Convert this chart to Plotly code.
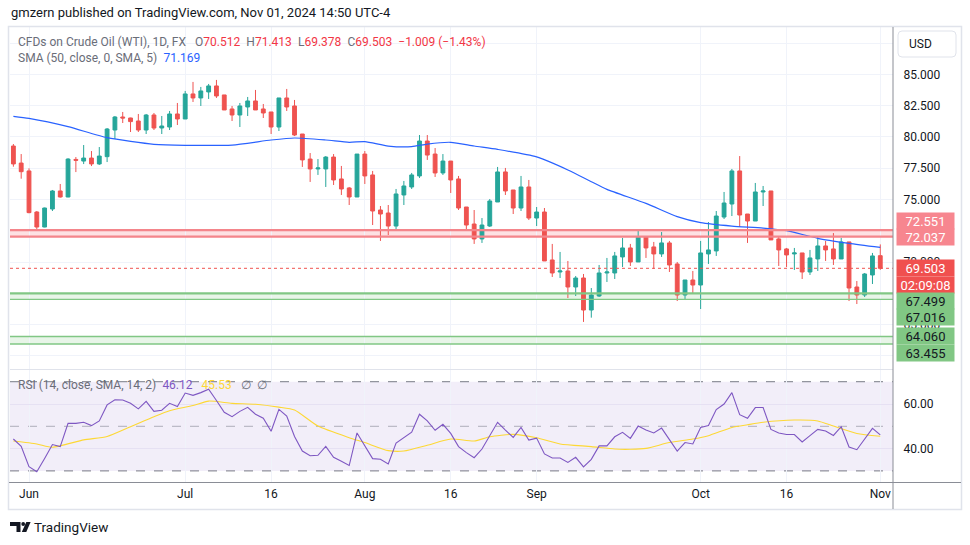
import pandas as pd
import plotly.graph_objects as go

# ---------------- data ----------------
dates = [d.strftime("%Y-%m-%d") for d in pd.bdate_range("2024-05-30", "2024-11-01")]

opens = [79.27, 77.91, 77.28, 74.00, 72.80, 74.24, 75.68, 75.20, 78.20, 78.07,
         78.31, 77.84, 78.42, 80.55, 81.59, 81.51, 81.27, 80.55, 81.75, 80.71,
         80.79, 81.83, 81.43, 83.43, 83.11, 83.59, 84.07, 83.35, 82.23, 81.75,
         82.39, 82.87, 82.23, 81.99, 80.79, 83.11, 82.47, 80.23, 78.23, 77.44,
         77.44, 78.39, 76.64, 75.92, 75.20, 78.63, 76.96, 74.16, 73.92, 72.88,
         75.36, 76.00, 76.88, 79.67, 78.63, 77.12, 78.07, 76.64, 74.40, 73.04,
         71.85, 72.88, 74.80, 77.20, 75.76, 74.32, 76.00, 73.52, 74.00, 70.17,
         69.21, 69.29, 68.01, 68.73, 66.17, 67.29, 69.13, 69.13, 70.41, 71.13,
         70.01, 72.00, 71.21, 70.65, 71.53, 69.85, 67.37, 68.57, 68.17, 70.65,
         70.89, 73.60, 74.64, 77.28, 73.84, 73.28, 75.60, 75.68, 71.85, 71.05,
         70.65, 70.73, 69.21, 70.25, 71.29, 71.05, 70.25, 71.61, 68.01, 67.37,
         68.97, 70.512]
highs = [79.43, 78.63, 77.49, 74.08, 74.35, 75.76, 76.24, 78.30, 78.39, 79.35,
         78.87, 79.19, 80.71, 81.67, 81.99, 81.53, 81.83, 81.83, 81.91, 81.67,
         82.07, 82.71, 83.67, 84.39, 83.99, 84.23, 84.55, 83.35, 82.47, 82.71,
         83.19, 83.75, 82.63, 81.99, 83.11, 83.83, 82.95, 80.23, 78.71, 78.23,
         78.47, 78.63, 77.68, 76.00, 78.63, 78.87, 77.28, 74.48, 74.56, 75.84,
         76.48, 77.12, 80.15, 80.15, 79.11, 78.63, 78.07, 76.88, 74.40, 74.16,
         73.52, 75.04, 77.60, 77.52, 75.76, 76.88, 76.56, 74.40, 74.32, 71.45,
         70.81, 70.09, 68.89, 69.05, 67.93, 69.77, 70.33, 70.81, 71.93, 71.45,
         72.48, 72.00, 71.61, 72.40, 71.69, 70.01, 68.57, 69.29, 71.69, 73.20,
         74.08, 75.60, 77.44, 78.47, 73.84, 76.32, 76.08, 75.68, 72.08, 71.13,
         71.13, 70.73, 70.97, 72.00, 71.69, 72.32, 71.93, 71.61, 68.49, 69.13,
         70.73, 71.413]
lows = [77.62, 76.66, 73.90, 72.51, 72.78, 74.08, 75.15, 75.18, 77.19, 77.83,
        77.67, 77.76, 77.99, 79.83, 81.11, 80.39, 80.39, 80.23, 80.55, 80.23,
        80.55, 80.95, 81.43, 82.79, 82.47, 83.03, 83.11, 82.15, 81.27, 80.79,
        81.67, 82.15, 81.51, 80.23, 80.47, 82.07, 80.07, 77.60, 76.40, 76.96,
        76.00, 76.16, 75.36, 74.56, 75.20, 76.24, 72.96, 71.69, 72.16, 72.56,
        74.56, 75.84, 76.72, 78.16, 76.80, 76.96, 75.52, 74.16, 72.56, 71.45,
        71.53, 72.80, 74.80, 75.36, 73.84, 74.08, 73.36, 72.88, 70.09, 68.81,
        68.73, 67.13, 67.29, 65.22, 65.56, 67.21, 68.41, 68.65, 69.61, 69.69,
        70.01, 70.33, 69.45, 70.41, 69.21, 66.89, 66.97, 67.53, 66.25, 69.85,
        70.49, 73.44, 73.68, 72.80, 71.53, 73.28, 74.48, 71.77, 69.69, 69.61,
        69.37, 68.65, 68.97, 69.29, 70.09, 69.77, 70.25, 66.89, 66.65, 67.21,
        68.25, 69.378]
closes = [77.84, 77.22, 73.95, 72.80, 74.32, 75.68, 75.20, 78.23, 78.13, 78.31,
          77.84, 78.47, 80.63, 81.59, 81.51, 81.22, 80.55, 81.75, 80.71, 80.87,
          81.83, 81.43, 83.43, 83.11, 83.67, 84.07, 83.27, 82.15, 81.75, 82.47,
          82.87, 82.15, 81.91, 80.79, 83.11, 82.39, 80.15, 78.16, 77.44, 77.52,
          78.39, 76.56, 75.84, 75.20, 78.63, 76.88, 74.08, 73.84, 72.88, 75.44,
          76.08, 76.96, 79.67, 78.55, 77.12, 78.07, 76.56, 74.32, 72.96, 71.85,
          72.96, 74.88, 77.20, 75.68, 74.32, 76.00, 73.52, 74.00, 70.09, 69.13,
          69.29, 68.01, 68.73, 66.17, 67.37, 69.13, 69.21, 70.49, 71.13, 70.01,
          72.00, 71.13, 70.65, 71.53, 69.77, 67.37, 68.57, 68.17, 70.73, 70.97,
          73.68, 74.72, 77.28, 73.76, 73.28, 75.60, 75.68, 71.77, 70.97, 70.57,
          70.73, 69.21, 70.33, 71.29, 70.97, 70.25, 71.61, 67.93, 67.37, 69.05,
          70.49, 69.503]

rsi = [44.3, 41.0, 31.9, 29.6, 35.6, 41.8, 40.9, 51.3, 51.3, 51.8,
       50.3, 52.4, 59.6, 61.9, 61.8, 60.3, 57.8, 61.2, 56.7, 57.2,
       60.3, 58.9, 64.9, 63.9, 65.1, 66.6, 61.6, 56.3, 54.3, 56.7,
       58.5, 55.4, 53.6, 47.8, 57.6, 54.6, 45.4, 38.9, 36.8, 37.0,
       41.0, 36.1, 34.3, 32.4, 47.0, 41.3, 35.5, 35.2, 33.1, 42.5,
       44.9, 47.4, 55.4, 52.4, 48.2, 50.9, 46.8, 40.9, 38.2, 35.9,
       39.8, 45.9, 51.8, 48.3, 45.0, 49.5, 43.8, 44.7, 37.6, 35.8,
       35.8, 33.8, 36.1, 31.8, 35.2, 41.2, 41.2, 45.3, 47.3, 44.6,
       50.1, 48.3, 47.0, 49.2, 44.3, 38.9, 42.7, 42.1, 49.5, 50.4,
       57.5, 60.0, 65.1, 55.2, 53.6, 58.4, 58.4, 48.6, 47.0, 46.3,
       46.3, 43.0, 45.8, 48.6, 47.9, 45.9, 49.8, 40.7, 39.5, 44.3,
       49.1, 46.12]

# SMA(50) read at selected bars (bar number counted from first bar)
sma_bar = [0, 2, 7, 12, 18, 22, 28, 33, 36, 40, 43, 45, 48, 51, 53, 56, 59, 62,
           67, 71, 74, 76, 81, 85, 88, 92, 96, 99, 103, 107, 111]
sma_val = [81.64, 81.48, 80.82, 79.94, 79.41, 79.33, 79.35, 79.75, 79.91, 79.75,
           79.57, 79.62, 79.27, 79.22, 79.43, 79.57, 79.27, 79.00, 78.40, 77.36,
           76.42, 75.81, 74.69, 73.63, 73.15, 72.88, 72.72, 72.51, 71.90, 71.50, 71.169]

# RSI-based moving average read at selected bars
rma_bar = [0, 3, 5, 9, 12, 15, 18, 20, 23, 25, 28, 31, 34, 36, 39, 43, 45, 48,
           50, 53, 56, 59, 61, 64, 67, 70, 74, 77, 79, 81, 84, 87, 89, 92, 94,
           96, 100, 103, 105, 108, 111]
rma_val = [43.4, 42.1, 40.6, 43.9, 45.4, 49.8, 54.3, 57.0, 59.3, 61.3, 60.3, 59.9,
           58.6, 57.3, 50.1, 44.9, 42.7, 39.1, 38.9, 41.5, 44.3, 43.4, 45.3, 46.4,
           44.9, 42.1, 40.9, 39.8, 39.7, 40.1, 42.7, 44.3, 45.8, 49.5, 50.7, 51.8,
           52.8, 52.4, 50.1, 46.8, 45.53]

tick_dates = ["2024-06-03", "2024-07-01", "2024-07-16", "2024-08-01", "2024-08-16",
              "2024-09-02", "2024-10-01", "2024-10-16", "2024-11-01"]
tick_text = ["Jun", "Jul", "16", "Aug", "16", "Sep", "Oct", "16", "Nov"]

price_ticks = [62.5, 65.0, 67.5, 70.0, 72.5, 75.0, 77.5, 80.0, 82.5, 85.0, 87.5]
price_tick_text = ["", "65.000", "", "70.000", "", "75.000", "77.500", "80.000",
                   "82.500", "85.000", ""]

resistance = [72.551, 72.037]
support_a = [67.499, 67.016]
support_b = [64.060, 63.455]
last_close = closes[-1]
countdown = "02:09:08"
change_text = "\u22121.009 (\u22121.43%)"

# ---------------- styling ----------------
W, H = 970, 545
def PX(x): return x / W
def PY(y): return 1 - y / H

GREEN = "#26a69a"
RED = "#ef5350"
GRID = "#f0f3fa"
TXT = "#131722"
GREY = "#6a6d78"
AXIS = "#8a8d96"
FONT = "Roboto"

XL, XR = PX(10), PX(893)

fig = go.Figure()

fig.add_trace(go.Candlestick(
    x=dates, open=opens, high=highs, low=lows, close=closes,
    increasing=dict(line=dict(color=GREEN, width=1), fillcolor=GREEN),
    decreasing=dict(line=dict(color=RED, width=1), fillcolor=RED),
    whiskerwidth=0, xaxis="x", yaxis="y", showlegend=False, hoverinfo="skip"))

fig.add_trace(go.Scatter(
    x=[dates[i] for i in sma_bar], y=sma_val, mode="lines",
    line=dict(color="#2962ff", width=1.2, shape="spline", smoothing=0.6),
    xaxis="x", yaxis="y", showlegend=False, hoverinfo="skip"))

fig.add_trace(go.Scatter(
    x=[dates[i] for i in rma_bar], y=rma_val, mode="lines",
    line=dict(color="#fdd835", width=1.1, shape="spline", smoothing=0.6),
    xaxis="x2", yaxis="y2", showlegend=False, hoverinfo="skip"))

fig.add_trace(go.Scatter(
    x=dates, y=rsi, mode="lines", line=dict(color="#7e57c2", width=1.1),
    xaxis="x2", yaxis="y2", showlegend=False, hoverinfo="skip"))

common_x = dict(type="category", categoryorder="array", categoryarray=dates,
                range=[-0.433, 112.63], tickvals=tick_dates, ticktext=tick_text,
                showgrid=True, gridcolor=GRID, gridwidth=1, zeroline=False,
                showline=False, fixedrange=True)

fig.update_layout(
    width=W, height=H, margin=dict(l=0, r=0, t=0, b=0),
    paper_bgcolor="white", plot_bgcolor="white", showlegend=False,
    font=dict(family=FONT, color=TXT, size=12),
    xaxis=dict(domain=[XL, XR], anchor="y", showticklabels=False,
               rangeslider=dict(visible=False), **common_x),
    xaxis2=dict(domain=[XL, XR], anchor="y2", matches="x", showticklabels=True,
                ticks="outside", ticklen=1, tickcolor="rgba(0,0,0,0)",
                tickfont=dict(size=12, color=TXT, family=FONT), **common_x),
    yaxis=dict(domain=[PY(369), PY(27)], range=[61.46, 88.778], side="right",
               anchor="x", tickvals=price_ticks, ticktext=price_tick_text,
               showgrid=True, gridcolor=GRID, zeroline=False,
               ticks="outside", ticklen=7, tickcolor="rgba(0,0,0,0)",
               tickfont=dict(size=12, color=TXT, family=FONT), fixedrange=True),
    yaxis2=dict(domain=[PY(482), PY(370)], range=[25.02, 75.25], side="right",
                anchor="x2", tickvals=[40, 60], tickformat=".2f",
                showgrid=True, gridcolor="#e6e1f3", zeroline=False,
                ticks="outside", ticklen=7, tickcolor="rgba(0,0,0,0)",
                tickfont=dict(size=12, color=TXT, family=FONT), fixedrange=True),
)

shapes = []
# RSI band and levels
shapes.append(dict(type="rect", xref="paper", yref="y2", x0=XL, x1=XR, y0=30, y1=70,
                   fillcolor="rgba(126,87,194,0.1)", line=dict(width=0), layer="below"))
for lvl, col in [(70, "#787b86"), (50, "rgba(120,123,134,0.55)"), (30, "#787b86")]:
    shapes.append(dict(type="line", xref="paper", yref="y2", x0=XL, x1=XR, y0=lvl, y1=lvl,
                       line=dict(color=col, width=1, dash="dash"), layer="below"))

# resistance / support bands
def band(levels, line_col, fill_col, w_top, w_bot):
    hi, lo = levels
    shapes.append(dict(type="rect", xref="paper", yref="y", x0=XL, x1=XR, y0=lo, y1=hi,
                       fillcolor=fill_col, line=dict(width=0), layer="below"))
    shapes.append(dict(type="line", xref="paper", yref="y", x0=XL, x1=XR, y0=hi, y1=hi,
                       line=dict(color=line_col, width=w_top)))
    shapes.append(dict(type="line", xref="paper", yref="y", x0=XL, x1=XR, y0=lo, y1=lo,
                       line=dict(color=line_col, width=w_bot)))

band(resistance, "#f4858b", "rgba(242,54,69,0.15)", 2.2, 2.2)
band(support_a, "#81c784", "rgba(76,175,80,0.13)", 2.2, 1.3)
band(support_b, "#81c784", "rgba(76,175,80,0.13)", 1.6, 1.3)

# last price dotted line
shapes.append(dict(type="line", xref="paper", yref="y", x0=XL, x1=XR,
                   y0=last_close, y1=last_close,
                   line=dict(color=RED, width=1, dash="dot")))

# frame and axis lines
shapes.append(dict(type="rect", xref="paper", yref="paper", x0=PX(8.5), x1=PX(961.5),
                   y0=PY(509.5), y1=PY(26.5), line=dict(color="#e0e3eb", width=1.5)))
shapes.append(dict(type="line", xref="paper", yref="paper", x0=XL, x1=XR,
                   y0=PY(369.5), y1=PY(369.5), line=dict(color="#e0e3eb", width=1)))
shapes.append(dict(type="line", xref="paper", yref="paper", x0=PX(893), x1=PX(893),
                   y0=PY(509), y1=PY(27), line=dict(color=AXIS, width=1)))
shapes.append(dict(type="line", xref="paper", yref="paper", x0=PX(9), x1=PX(961),
                   y0=PY(482.5), y1=PY(482.5), line=dict(color=AXIS, width=1)))

# USD box with rounded corners
def rrect(x0, y0, x1, y1, r):
    return ("M {a} {b} L {c} {b} Q {x1} {b} {x1} {d} L {x1} {e} Q {x1} {f} {c} {f} "
            "L {a} {f} Q {x0} {f} {x0} {e} L {x0} {d} Q {x0} {b} {a} {b} Z").format(
        a=PX(x0 + r), b=PY(y0), c=PX(x1 - r), d=PY(y0 + r), e=PY(y1 - r), f=PY(y1),
        x0=PX(x0), x1=PX(x1))
shapes.append(dict(type="path", xref="paper", yref="paper", path=rrect(898, 31, 956, 57, 4),
                   fillcolor="white", line=dict(color="#e0e3eb", width=1)))

# TradingView logo glyph
logo = ("M {} {} L {} {} L {} {} L {} {} L {} {} L {} {} Z").format(
    PX(10), PY(522), PX(20.5), PY(522), PX(20.5), PY(532), PX(16.5), PY(532),
    PX(16.5), PY(526), PX(10), PY(526))
shapes.append(dict(type="path", xref="paper", yref="paper", path=logo,
                   fillcolor=TXT, line=dict(width=0)))
shapes.append(dict(type="circle", xref="paper", yref="paper", x0=PX(21.3), x1=PX(25.1),
                   y0=PY(525.9), y1=PY(522.1), fillcolor=TXT, line=dict(width=0)))
vpath = ("M {} {} L {} {} L {} {} L {} {} Z").format(
    PX(26.3), PY(522), PX(30.6), PY(522), PX(26.3), PY(532), PX(21.8), PY(532))
shapes.append(dict(type="path", xref="paper", yref="paper", path=vpath,
                   fillcolor=TXT, line=dict(width=0)))

fig.update_layout(shapes=shapes)

ann = []
def text(x, y, s, size=13, color=TXT, xanchor="left"):
    ann.append(dict(xref="paper", yref="paper", x=PX(x), y=PY(y), text=s,
                    showarrow=False, xanchor=xanchor, yanchor="middle",
                    font=dict(size=size, color=color, family=FONT)))

text(9, 13, "gmzern published on TradingView.com, Nov 01, 2024 14:50 UTC-4", 13)

o, h, l, c = opens[-1], highs[-1], lows[-1], closes[-1]
red = "#f23645"
line1 = ("CFDs on Crude Oil (WTI), 1D, FX\u2002 "
         "O<span style='color:{r}'>{o:.3f}</span>\u2002H<span style='color:{r}'>{h:.3f}</span>\u2002"
         "L<span style='color:{r}'>{l:.3f}</span>\u2002C<span style='color:{r}'>{c:.3f}</span>\u2002"
         "<span style='color:{r}'>{chg}</span>").format(r=red, o=o, h=h, l=l, c=c, chg=change_text)
text(16, 42, line1, 12, GREY)
text(16, 58, "SMA (50, close, 0, SMA, 5)\u2002<span style='color:#2962ff'>{:.3f}</span>".format(sma_val[-1]),
     12, GREY)
text(16, 385, ("RSI (14, close, SMA, 14, 2)\u2002<span style='color:#7e57c2'>{:.2f}</span>\u2002 "
               "<span style='color:#fdd835'>{:.2f}</span>\u2002 \u2205\u2002\u2205").format(rsi[-1], rma_val[-1]),
     12, GREY)
text(32, 527, "TradingView", 13.5, TXT)
text(907, 44, "USD", 12, TXT)

# price labels on the axis
def plabel(level, s, bg, fg, yshift):
    ann.append(dict(xref="paper", yref="y", x=PX(896), y=level, yshift=yshift,
                    text=s, showarrow=False, xanchor="left", yanchor="middle",
                    font=dict(size=13, color=fg, family=FONT), bgcolor=bg,
                    borderpad=0, width=57, height=16.4, align="center"))

plabel(resistance[0], "{:.3f}".format(resistance[0]), "#f7868f", "white", 9.3)
plabel(resistance[1], "{:.3f}".format(resistance[1]), "#f7868f", "white", -0.6)
plabel(last_close, "{:.3f}".format(last_close), "#f0504f", "white", 0)
plabel(last_close, countdown, "#f0504f", "white", -16.3)
plabel(support_a[0], "{:.3f}".format(support_a[0]), "#81c784", TXT, -7.1)
plabel(support_a[1], "{:.3f}".format(support_a[1]), "#81c784", TXT, -17.3)
plabel(support_b[0], "{:.3f}".format(support_b[0]), "#81c784", TXT, 0)
plabel(support_b[1], "{:.3f}".format(support_b[1]), "#81c784", TXT, -9.1)

fig.update_layout(annotations=ann)

fig.write_html("out.html", config={"displayModeBar": False},
               post_script="document.body.style.margin='0px';document.body.style.overflow='hidden';")
